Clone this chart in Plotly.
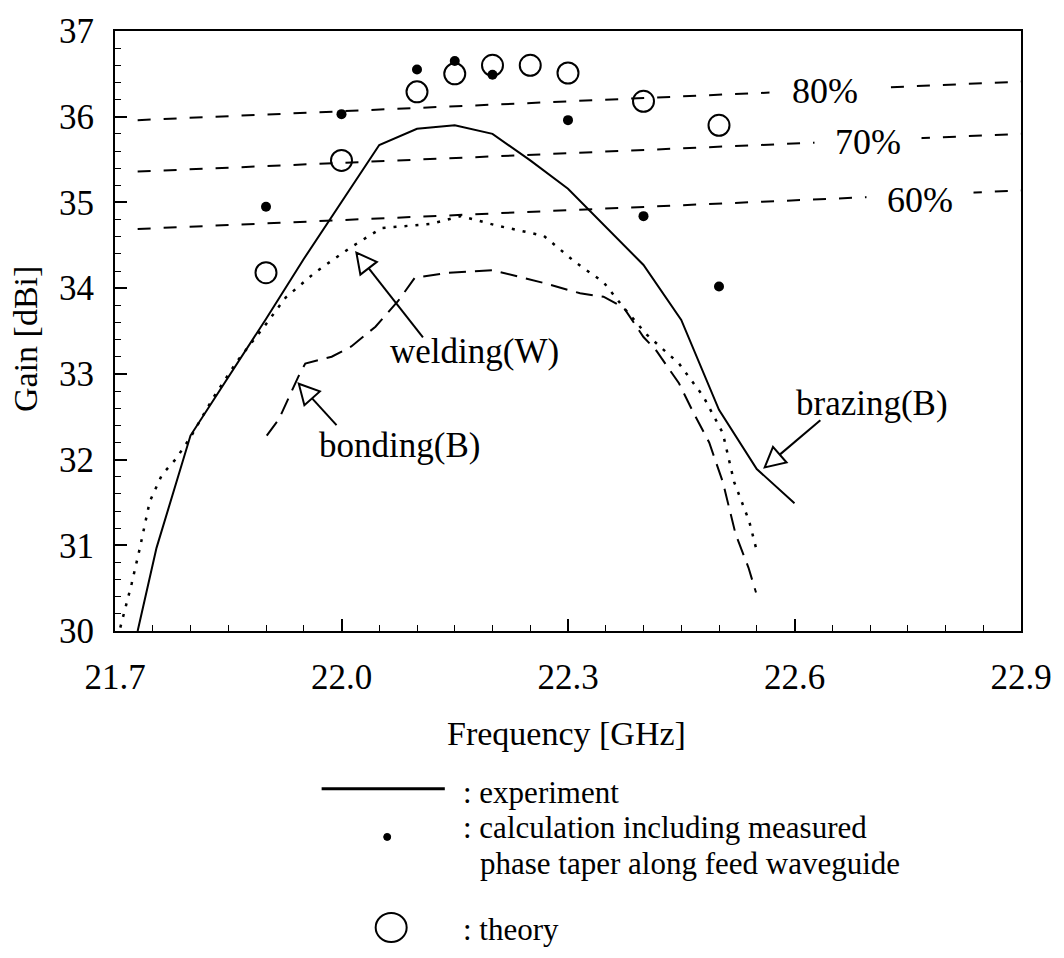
import math
import plotly.graph_objects as go

# ---------------- data ----------------
exp_freq = [21.73, 21.755, 21.80, 21.85, 21.90, 21.95, 22.00, 22.05, 22.10, 22.15,
            22.20, 22.25, 22.30, 22.35, 22.40, 22.45, 22.50, 22.55, 22.60]
exp_gain = [30.00, 30.97, 32.28, 32.96, 33.64, 34.34, 35.00, 35.67, 35.86, 35.90,
            35.80, 35.49, 35.16, 34.72, 34.27, 33.63, 32.58, 31.89, 31.49]

weld_freq = [21.707, 21.722, 21.733, 21.746, 21.762, 21.78, 21.80, 21.83, 21.862, 21.90,
             21.926, 21.966, 22.013, 22.053, 22.118, 22.158, 22.206, 22.268, 22.31, 22.347,
             22.374, 22.404, 22.447, 22.479, 22.505, 22.52, 22.54, 22.549]
weld_gain = [30.04, 30.55, 30.97, 31.51, 31.82, 32.00, 32.26, 32.72, 33.15, 33.58,
             33.89, 34.19, 34.48, 34.70, 34.75, 34.84, 34.73, 34.61, 34.30, 34.07,
             33.77, 33.46, 33.12, 32.74, 32.31, 31.74, 31.28, 30.97]

bond_freq = [21.901, 21.917, 21.943, 21.952, 21.987, 22.013, 22.045, 22.075, 22.097, 22.141,
             22.20, 22.268, 22.316, 22.347, 22.374, 22.40, 22.417, 22.447, 22.466, 22.487,
             22.505, 22.522, 22.539, 22.549]
bond_gain = [32.28, 32.47, 32.97, 33.12, 33.20, 33.32, 33.55, 33.85, 34.12, 34.18,
             34.21, 34.06, 33.94, 33.90, 33.77, 33.43, 33.27, 32.89, 32.55, 32.20,
             31.74, 31.13, 30.74, 30.45]

calc_freq = [21.9, 22.0, 22.1, 22.15, 22.2, 22.3, 22.4, 22.5]
calc_gain = [34.95, 36.03, 36.55, 36.65, 36.49, 35.96, 34.84, 34.02]

theory_freq = [21.9, 22.0, 22.1, 22.15, 22.2, 22.25, 22.3, 22.4, 22.5]
theory_gain = [34.18, 35.49, 36.29, 36.50, 36.60, 36.60, 36.51, 36.18, 35.90]

eff_labels = ["80%", "70%", "60%"]
eff_freq = [21.73, 22.9]
eff80_gain = [35.96, 36.41]
eff70_gain = [35.36, 35.80]
eff60_gain = [34.69, 35.14]

x_tickvals = [21.7, 22.0, 22.3, 22.6, 22.9]
x_ticktext = ["21.7", "22.0", "22.3", "22.6", "22.9"]
y_tickvals = [30, 31, 32, 33, 34, 35, 36, 37]

# ---------------- layout constants ----------------
FONT = "Liberation Serif, Times New Roman, serif"
W, H = 1064, 958
ML, MR, MT, MB = 115, 37, 22, 327
X_RANGE = [21.7, 22.9]
Y_RANGE = [30, 37]
PW = W - ML - MR
PH = H - MT - MB


def px_to_data(px, py):
    x = X_RANGE[0] + (px - ML) / PW * (X_RANGE[1] - X_RANGE[0])
    y = Y_RANGE[1] - (py - MT) / PH * (Y_RANGE[1] - Y_RANGE[0])
    return x, y


def px_to_paper(px, py):
    return (px - ML) / PW, (H - MB - py) / PH


fig = go.Figure()

LINE_C = "black"
for g, lab in zip([eff80_gain, eff70_gain, eff60_gain], eff_labels):
    fig.add_trace(go.Scatter(x=eff_freq, y=g, mode="lines", name=lab,
                             line=dict(color=LINE_C, width=2, dash="13px,13px")))

fig.add_trace(go.Scatter(x=exp_freq, y=exp_gain, mode="lines", name="brazing",
                         line=dict(color=LINE_C, width=2)))
fig.add_trace(go.Scatter(x=weld_freq, y=weld_gain, mode="lines", name="welding",
                         line=dict(color=LINE_C, width=2.5, dash="3px,8px")))
fig.add_trace(go.Scatter(x=bond_freq, y=bond_gain, mode="lines", name="bonding",
                         line=dict(color=LINE_C, width=2, dash="17px,9px")))
fig.add_trace(go.Scatter(x=calc_freq, y=calc_gain, mode="markers", name="calc",
                         marker=dict(color=LINE_C, size=10)))
fig.add_trace(go.Scatter(x=theory_freq, y=theory_gain, mode="markers", name="theory",
                         marker=dict(symbol="circle-open", color=LINE_C, size=21,
                                     line=dict(width=2, color=LINE_C))))

shapes = []
annotations = []

# efficiency labels (white box to break the dashed line)
eff_label_px = [(830, 83, 108), (873, 135, 104), (925, 194, 104)]
for lab, (px, py, wbox) in zip(eff_labels, eff_label_px):
    x, y = px_to_data(px, py)
    annotations.append(dict(x=x, y=y, xref="x", yref="y", text=lab, showarrow=False,
                            font=dict(family=FONT, size=36, color="black"),
                            bgcolor="white", width=wbox, height=34,
                            xanchor="center", yanchor="middle"))

# hollow-head arrows: (tail px, tip px)
arrows = [((425, 333), (358, 247)),
          ((338, 422), (300, 380)),
          ((825, 417), (769, 465))]
HEAD_L, HEAD_HW = 20, 10.5
for (tx, ty), (hx, hy) in arrows:
    dx, dy = hx - tx, hy - ty
    ln = math.hypot(dx, dy)
    ux, uy = dx / ln, dy / ln
    nx, ny = -uy, ux
    bx, by = hx - ux * HEAD_L, hy - uy * HEAD_L
    c1 = px_to_data(bx + nx * HEAD_HW, by + ny * HEAD_HW)
    c2 = px_to_data(bx - nx * HEAD_HW, by - ny * HEAD_HW)
    tip = px_to_data(hx, hy)
    base = px_to_data(bx, by)
    tail = px_to_data(tx, ty)
    shapes.append(dict(type="line", xref="x", yref="y", x0=tail[0], y0=tail[1],
                       x1=base[0], y1=base[1], line=dict(color="black", width=2)))
    shapes.append(dict(type="path", xref="x", yref="y",
                       path=f"M {tip[0]},{tip[1]} L {c1[0]},{c1[1]} L {c2[0]},{c2[1]} Z",
                       fillcolor="white", line=dict(color="black", width=2)))

# curve labels
curve_labels = [("welding(W)", 390, 347), ("bonding(B)", 318, 443), ("brazing(B)", 798, 400)]
for txt, px, py in curve_labels:
    x, y = px_to_data(px, py)
    annotations.append(dict(x=x, y=y, xref="x", yref="y", text=txt, showarrow=False,
                            font=dict(family=FONT, size=35, color="black"),
                            xanchor="left", yanchor="middle"))

# axis titles
xp, yp = px_to_paper(569, 735)
annotations.append(dict(x=xp, y=yp, xref="paper", yref="paper", text="Frequency [GHz]",
                        showarrow=False, font=dict(family=FONT, size=34, color="black"),
                        xanchor="center", yanchor="middle"))
xp, yp = px_to_paper(25, 335)
annotations.append(dict(x=xp, y=yp, xref="paper", yref="paper", text="Gain [dBi]",
                        showarrow=False, textangle=-90,
                        font=dict(family=FONT, size=34, color="black"),
                        xanchor="center", yanchor="middle"))

# custom legend
x0p, y0p = px_to_paper(323, 791)
x1p, _ = px_to_paper(447, 791)
shapes.append(dict(type="line", xref="paper", yref="paper", x0=x0p, x1=x1p, y0=y0p, y1=y0p,
                   line=dict(color="black", width=3)))
dxp, dyp = px_to_paper(389, 840)
shapes.append(dict(type="circle", xref="paper", yref="paper", xsizemode="pixel",
                   ysizemode="pixel", xanchor=dxp, yanchor=dyp, x0=-3.5, x1=3.5,
                   y0=-3.5, y1=3.5, fillcolor="black", line=dict(color="black", width=1)))
cxp, cyp = px_to_paper(393, 932)
shapes.append(dict(type="circle", xref="paper", yref="paper", xsizemode="pixel",
                   ysizemode="pixel", xanchor=cxp, yanchor=cyp, x0=-15.5, x1=15.5,
                   y0=-14.5, y1=14.5, line=dict(color="black", width=2)))

legend_texts = [(": experiment", 463, 795),
                (": calculation including measured", 463, 830),
                ("phase taper along feed waveguide", 480, 867),
                (": theory", 463, 934)]
for txt, px, py in legend_texts:
    xp, yp = px_to_paper(px, py)
    annotations.append(dict(x=xp, y=yp, xref="paper", yref="paper", text=txt,
                            showarrow=False, font=dict(family=FONT, size=31, color="black"),
                            xanchor="left", yanchor="middle"))

axis_common = dict(showline=True, linewidth=2, linecolor="black", mirror=True,
                   showgrid=False, zeroline=False, ticks="inside", ticklen=12,
                   tickwidth=1.5, tickcolor="black",
                   tickfont=dict(family=FONT, size=35, color="black"))

fig.update_layout(
    width=W, height=H,
    margin=dict(l=ML, r=MR, t=MT, b=MB),
    paper_bgcolor="white", plot_bgcolor="white",
    showlegend=False,
    shapes=shapes, annotations=annotations,
    xaxis=dict(range=X_RANGE, tickmode="array", tickvals=x_tickvals, ticktext=x_ticktext,
               ticklabelstandoff=14,
               minor=dict(ticks="inside", ticklen=6, dtick=0.05, tick0=21.7,
                          tickcolor="black", tickwidth=1.2),
               **axis_common),
    yaxis=dict(range=Y_RANGE, tickmode="array", tickvals=y_tickvals,
               ticklabelstandoff=12,
               minor=dict(ticks="inside", ticklen=6, dtick=0.2, tick0=30,
                          tickcolor="black", tickwidth=1.2),
               **axis_common),
)

fig.write_html("out.html")
